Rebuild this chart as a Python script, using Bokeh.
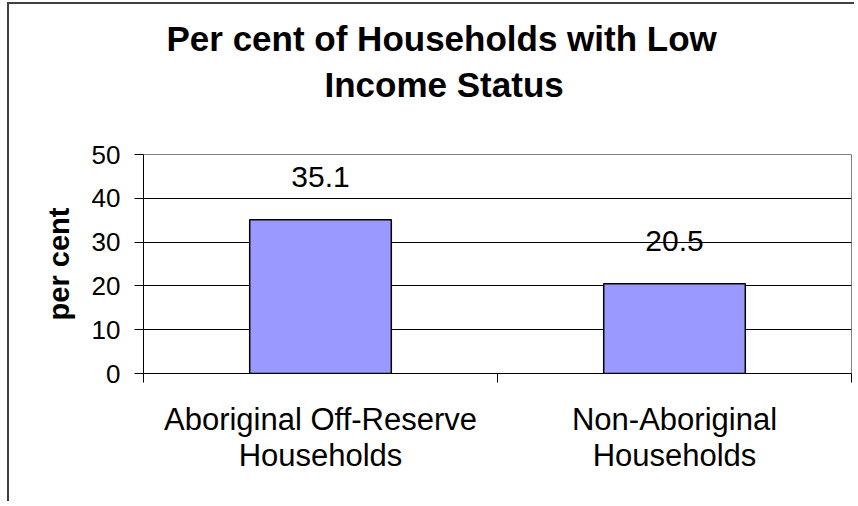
from bokeh.plotting import figure
from bokeh.models import Range1d, FixedTicker, ColumnDataSource, Title, Grid
from bokeh.core.properties import value
from bokeh.embed import file_html
from bokeh.resources import INLINE

# ---- data ----
categories = ["Aboriginal Off-Reserve\nHouseholds", "Non-Aboriginal\nHouseholds"]
values = [35.1, 20.5]
y_ticks = [0, 10, 20, 30, 40, 50]
title_lines = ["Per cent of Households with Low", "Income Status"]
y_label = "per cent"

FONT = "Liberation Sans"

positions = [i + 0.5 for i in range(len(categories))]
src = ColumnDataSource(dict(
    x=positions,
    top=values,
    label=[f"{v:.1f}" for v in values],
))

p = figure(
    width=847, height=499,
    x_range=Range1d(0, len(categories)),
    y_range=Range1d(y_ticks[0], y_ticks[-1]),
    output_backend="svg", toolbar_location=None,
    min_border_left=134, min_border_right=5,
    min_border_top=150, min_border_bottom=130,
    background_fill_color="white", border_fill_color="white",
)
p.margin = (2, 0, 0, 7)
p.styles = {"border-left": "2px solid #404040", "border-top": "2px solid #404040"}

p.outline_line_color = "#808080"
p.outline_line_width = 1

# bars
p.vbar(x="x", top="top", width=0.4, source=src,
       fill_color="#9999FF", line_color="black", line_width=1.5)

# value labels
p.text(x="x", y="top", text="label", source=src,
       text_font=value(FONT), text_font_size="30px", text_color="black",
       text_align="center", text_baseline="alphabetic", y_offset=-43)

# grid
p.xgrid.visible = False
p.ygrid.visible = False
p.add_layout(Grid(dimension=1, ticker=FixedTicker(ticks=y_ticks[1:-1]),
                  grid_line_color="black", grid_line_width=1))

# y axis
yax = p.yaxis[0]
yax.ticker = FixedTicker(ticks=y_ticks)
yax.axis_line_color = "black"
yax.major_tick_in = 0
yax.major_tick_out = 9
yax.major_tick_line_color = "black"
yax.minor_tick_line_color = None
yax.major_label_text_font = FONT
yax.major_label_text_font_size = "26px"
yax.major_label_text_color = "black"
yax.major_label_standoff = 14
yax.axis_label = y_label
yax.axis_label_text_font = FONT
yax.axis_label_text_font_size = "29px"
yax.axis_label_text_font_style = "bold"
yax.axis_label_text_color = "black"
yax.axis_label_standoff = 14

# x axis
xax = p.xaxis[0]
xax.ticker = FixedTicker(ticks=positions, minor_ticks=list(range(len(categories) + 1)))
xax.major_label_overrides = {pos: c for pos, c in zip(positions, categories)}
xax.axis_line_color = "black"
xax.major_tick_line_color = None
xax.major_tick_in = 0
xax.major_tick_out = 0
xax.minor_tick_line_color = "black"
xax.minor_tick_in = 0
xax.minor_tick_out = 9
xax.major_label_text_font = FONT
xax.major_label_text_font_size = "31px"
xax.major_label_text_color = "black"
xax.major_label_text_line_height = 1.05
xax.major_label_standoff = 19

# title: two lines (second line added first: it sits nearest the frame)
t2 = Title(text=title_lines[1], align="left", offset=181,
           text_font=FONT, text_font_size="35px", text_font_style="bold",
           text_color="black", standoff=102)
t1 = Title(text=title_lines[0], align="left", offset=23,
           text_font=FONT, text_font_size="35px", text_font_style="bold",
           text_color="black", standoff=-92)
p.add_layout(t2, "above")
p.add_layout(t1, "above")

open("out.html", "w").write(file_html(p, INLINE))
